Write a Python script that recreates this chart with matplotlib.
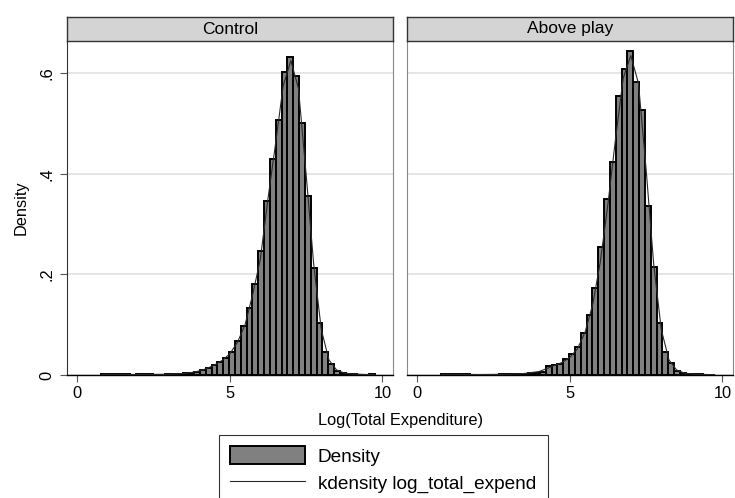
import numpy as np
import matplotlib
matplotlib.use("Agg")
import matplotlib.pyplot as plt
from matplotlib.patches import Patch
from matplotlib.lines import Line2D

plt.rcParams["font.family"] = ["Liberation Sans", "DejaVu Sans"]

# histogram bins (47 equal-width bins)
bin_start = 0.776
bin_width = 0.191

panels = ["Control", "Above play"]

density_control = [
    0.0015, 0.001, 0.0015, 0.0015, 0.001, 0.0005, 0.001, 0.001, 0.001, 0.0008,
    0.0008, 0.001, 0.0015, 0.002, 0.003, 0.004, 0.006, 0.009, 0.0145, 0.0205,
    0.026, 0.034, 0.046, 0.068, 0.097, 0.134, 0.180, 0.247, 0.345, 0.429,
    0.507, 0.603, 0.633, 0.595, 0.501, 0.355, 0.212, 0.103, 0.046, 0.022,
    0.008, 0.003, 0.002, 0.001, 0.0005, 0.0005, 0.001,
]
density_above = [
    0.0015, 0.001, 0.0015, 0.001, 0.001, 0.0005, 0.0008, 0.0008, 0.0005, 0.0008,
    0.001, 0.001, 0.0012, 0.0015, 0.002, 0.003, 0.004, 0.005, 0.017, 0.019,
    0.022, 0.031, 0.041, 0.056, 0.083, 0.119, 0.172, 0.255, 0.349, 0.424,
    0.554, 0.608, 0.644, 0.583, 0.527, 0.335, 0.214, 0.103, 0.046, 0.023,
    0.008, 0.003, 0.002, 0.001, 0.001, 0.0005, 0.0,
]

# kernel density curve
kde_x = [0.8, 1.0, 2.0, 3.0, 3.5, 3.75, 4.0, 4.25, 4.5, 4.75, 5.0, 5.25, 5.5,
         5.75, 6.0, 6.25, 6.5, 6.75, 7.0, 7.25, 7.5, 7.75, 8.0, 8.25, 8.5,
         8.75, 9.0, 9.75]
kde_control = [0.001, 0.0015, 0.001, 0.0015, 0.003, 0.005, 0.008, 0.013, 0.020,
               0.029, 0.042, 0.065, 0.100, 0.160, 0.230, 0.350, 0.460, 0.575,
               0.625, 0.570, 0.400, 0.220, 0.090, 0.030, 0.010, 0.004, 0.002,
               0.0005]
kde_above = [0.001, 0.0015, 0.001, 0.0015, 0.003, 0.005, 0.007, 0.013, 0.019,
             0.025, 0.035, 0.052, 0.085, 0.140, 0.225, 0.340, 0.470, 0.590,
             0.635, 0.580, 0.410, 0.220, 0.090, 0.030, 0.010, 0.004, 0.002,
             0.0005]

heights = [density_control, density_above]
kdes = [kde_control, kde_above]

W, H = 735, 498
fig = plt.figure(figsize=(W / 100, H / 100), dpi=100)

lefts = [67, 407]
pw = 326
top_px, bot_px = 41, 375
strip_top = 17

bar_color = "#808080"
line_color = "#2a2a2a"
fs = 11.8

for k, name in enumerate(panels):
    ax = fig.add_axes([lefts[k] / W, (H - bot_px) / H, pw / W, (bot_px - top_px) / H])
    edges = bin_start + bin_width * np.arange(len(heights[k]))
    ax.bar(edges, heights[k], width=bin_width, align="edge", color=bar_color,
           edgecolor="black", linewidth=1.4, zorder=2)
    ax.plot(kde_x, kdes[k], color=line_color, linewidth=0.8, zorder=3)

    ax.set_xlim(-0.338, 10.35)
    ax.set_ylim(0, 0.664)
    ax.set_xticks([0, 5, 10])
    ax.set_xticklabels(["0", "5", "10"], fontsize=fs)
    ax.set_yticks([0, 0.2, 0.4, 0.6])
    ax.grid(axis="y", color="#e0e0e0", linewidth=1.2, zorder=0)
    ax.set_axisbelow(True)
    ax.tick_params(axis="x", direction="out", length=5, width=0.8, color="#555555", pad=3)

    ax.spines["right"].set_color("#888888")
    ax.spines["right"].set_linewidth(0.8)
    ax.spines["top"].set_visible(False)
    ax.spines["bottom"].set_color("black")
    ax.spines["bottom"].set_linewidth(1.0)

    if k == 0:
        ax.set_yticklabels(["0", ".2", ".4", ".6"], fontsize=fs, rotation=90, va="center")
        ax.tick_params(axis="y", direction="out", length=5, width=0.8, color="#555555", pad=4)
        ax.spines["left"].set_color("#333333")
        ax.set_ylabel("Density", fontsize=fs, labelpad=8)
    else:
        ax.set_yticklabels([])
        ax.tick_params(axis="y", length=0)
        ax.spines["left"].set_color("#888888")
    ax.spines["left"].set_linewidth(0.8)

    # panel header strip
    sax = fig.add_axes([lefts[k] / W, (H - top_px) / H, pw / W, (top_px - strip_top) / H])
    sax.set_facecolor("#d4d4d4")
    sax.set_xticks([])
    sax.set_yticks([])
    for s in sax.spines.values():
        s.set_color("#333333")
        s.set_linewidth(1.0)
    sax.text(0.5, 0.5, name, ha="center", va="center", fontsize=12.5, transform=sax.transAxes)

fig.text((67 + 733) / 2 / W, 1 - 420 / H, "Log(Total Expenditure)", ha="center",
         va="center", fontsize=fs)

handles = [Patch(facecolor=bar_color, edgecolor="black", linewidth=1.4),
           Line2D([0], [0], color=line_color, linewidth=0.8)]
leg = fig.legend(handles, ["Density", "kdensity log_total_expend"],
                 loc="upper left", bbox_to_anchor=(219 / W, 1 - 435 / H),
                 fontsize=13.7, frameon=True, fancybox=False, handlelength=3.9,
                 handleheight=1.07, handletextpad=0.7, borderpad=0.6,
                 labelspacing=0.4, borderaxespad=0)
leg.get_frame().set_edgecolor("black")
leg.get_frame().set_linewidth(0.8)

fig.savefig("out.png", dpi=100)
